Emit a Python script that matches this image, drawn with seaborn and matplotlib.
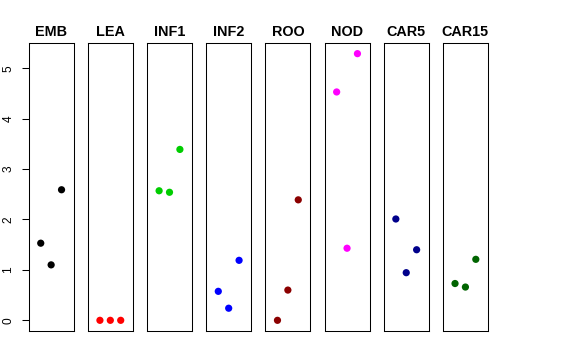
import matplotlib
matplotlib.use("Agg")
import matplotlib.pyplot as plt
import seaborn as sns
import pandas as pd

tissues = ["EMB", "LEA", "INF1", "INF2", "ROO", "NOD", "CAR5", "CAR15"]
colors = ["#000000", "#FF0000", "#00CD00", "#0000FF", "#8B0000", "#FF00FF", "#00008B", "#006400"]
emb = [1.53, 1.10, 2.59]
lea = [0.0, 0.0, 0.0]
inf1 = [2.57, 2.54, 3.39]
inf2 = [0.575, 0.24, 1.19]
roo = [0.0, 0.60, 2.39]
nod = [4.53, 1.43, 5.29]
car5 = [2.01, 0.945, 1.40]
car15 = [0.73, 0.66, 1.21]
replicate = [1, 2, 3]
yticks = [0, 1, 2, 3, 4, 5]

values = [emb, lea, inf1, inf2, roo, nod, car5, car15]
rows = []
for t, vals in zip(tissues, values):
    for r, v in zip(replicate, vals):
        rows.append({"tissue": t, "rep": r, "value": v})
df = pd.DataFrame(rows)

sns.set_style("white")
plt.rcParams["font.family"] = ["Liberation Sans", "DejaVu Sans"]
plt.rcParams["text.color"] = "black"

fig, axes = plt.subplots(1, len(tissues), figsize=(5.76, 3.6), dpi=100, sharey=True)
fig.subplots_adjust(left=0.0498, right=0.847, top=0.8806, bottom=0.0806, wspace=0.318)

ymax = df["value"].max()
ext = 0.04 * ymax
for i, (ax, t, c) in enumerate(zip(axes, tissues, colors)):
    sub = df[df["tissue"] == t]
    sns.scatterplot(data=sub, x="rep", y="value", ax=ax, color=c, s=27,
                    edgecolor="none", linewidth=0)
    ax.set_xlim(0 - 0.16, 4 + 0.16)
    ax.set_ylim(0 - ext, ymax + ext)
    ax.set_xticks([])
    ax.set_xlabel("")
    ax.set_ylabel("")
    ax.set_title(t, fontsize=10.4, fontweight="bold", pad=5, color="black")
    for sp in ax.spines.values():
        sp.set_visible(True)
        sp.set_color("#000000")
        sp.set_linewidth(0.75)
    if i == 0:
        ax.set_yticks(yticks)
        ax.tick_params(axis="y", left=True, length=5.2, width=0.75, pad=5,
                       labelsize=8.6, color="black", labelcolor="black")
        for lab in ax.get_yticklabels():
            lab.set_rotation(90)
            lab.set_va("center")
    else:
        ax.tick_params(axis="y", left=False, labelleft=False)

fig.savefig("out.png", dpi=100)
